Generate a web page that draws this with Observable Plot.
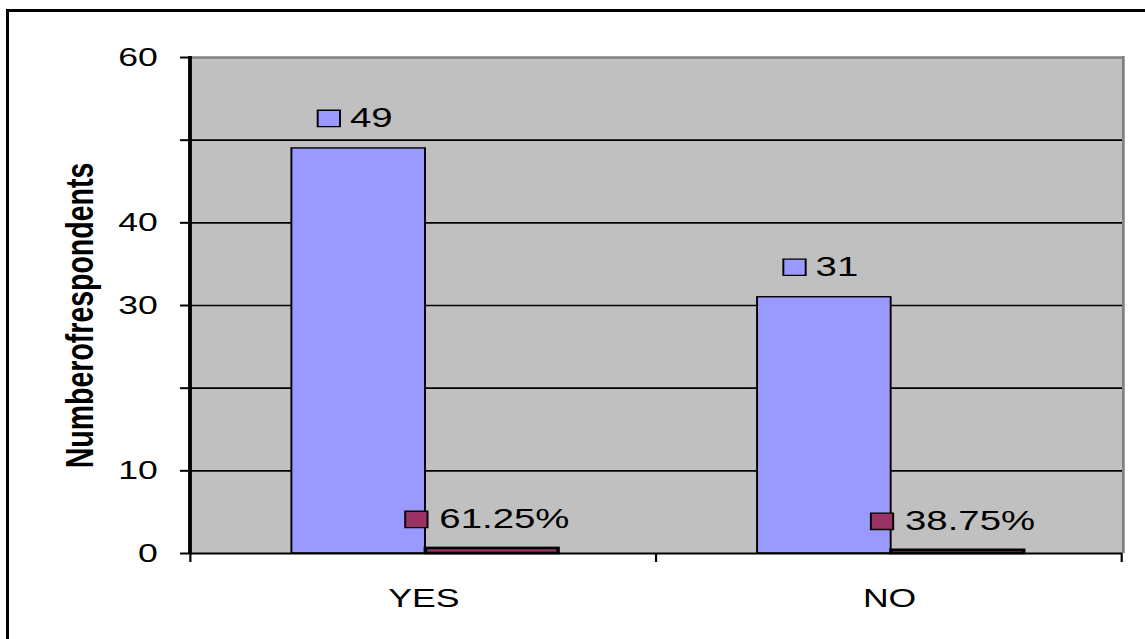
<!DOCTYPE html>
<html>
<head>
<meta charset="utf-8">
<script src="https://cdn.jsdelivr.net/npm/d3@7"></script>
<script src="https://cdn.jsdelivr.net/npm/@observablehq/plot@0.6"></script>
<style>
  html, body { margin: 0; padding: 0; background: #fff; }
  #wrap { position: relative; width: 1145px; height: 639px; overflow: hidden; }
  #border { position: absolute; left: 6px; top: 9px; width: 3000px; height: 3000px;
            border-left: 3px solid #000; border-top: 3px solid #000; pointer-events: none; }
  #chart { position: absolute; left: 0; top: 0; }
</style>
</head>
<body>
<div id="wrap"><div id="chart"></div><div id="border"></div></div>
<script>
// ---- data ----
const categories = ["YES", "NO"];
const respondents = [49, 31];
const shares = [0.6125, 0.3875];           // second series (shown as percentages)
const yTicks = [0, 10, 20, 30, 40, 50, 60];
const yTickLabels = [0, 10, 30, 40, 60];   // labels that are printed
const gridValues = [10, 20, 30, 40, 50];
const yLabel = "Numberofrespondents";

const rows = categories.map((c, i) => ({cat: c, n: respondents[i], share: shares[i]}));

// ---- layout (image is horizontally stretched: draw narrower, stretch to 1145) ----
const W = 836, H = 639, S = 1145 / W;
const font = "'Liberation Sans', Arial, sans-serif";

function decor(index, scales, values, dimensions) {
  const {width, height, marginLeft, marginRight, marginTop, marginBottom} = dimensions;
  const x = scales.x, bw = x.bandwidth();
  const g = d3.create("svg:g");
  const bottom = height - marginBottom;
  g.append("line").attr("x1", width - marginRight + 1).attr("x2", width - marginRight + 1)
    .attr("y1", marginTop - 1).attr("y2", bottom).attr("stroke", "#808080").attr("stroke-width", 2);
  g.append("line").attr("x1", marginLeft).attr("x2", marginLeft)
    .attr("y1", marginTop - 1).attr("y2", bottom + 1).attr("stroke", "#000").attr("stroke-width", 2.8);
  const bounds = categories.map(c => x(c)).concat([x(categories[categories.length - 1]) + bw]);
  g.selectAll("line.b").data(bounds).join("line").attr("class", "b")
    .attr("x1", d => d).attr("x2", d => d).attr("y1", bottom).attr("y2", bottom + 9)
    .attr("stroke", "#000").attr("stroke-width", 1.6);
  return g.node();
}

const chart = Plot.plot({
  width: W,
  height: H,
  marginLeft: 190 / S,
  marginRight: (1145 - 1122) / S,
  marginTop: 57,
  marginBottom: 86,
  style: {fontFamily: font, fontSize: "26px", color: "#000", background: "transparent", strokeWidth: 2},
  x: {domain: categories, padding: 0, tickSize: 0, tickPadding: 35, label: null},
  y: {domain: [0, 60], ticks: yTicks, tickSize: 7.3, tickPadding: 16.7, label: null,
      tickFormat: d => yTickLabels.includes(d) ? String(d) : ""},
  marks: [
    Plot.frame({fill: "#C0C0C0", stroke: null}),
    Plot.ruleY(gridValues, {stroke: "#000", strokeWidth: 1.6}),
    Plot.ruleY([60], {stroke: "#808080", strokeWidth: 2.5}),
    Plot.barY(rows, {x: "cat", y: "n", fill: "#9999FF", stroke: "#000", strokeWidth: 1.4,
      insetLeft: 73.75, insetRight: 168.7}),
    Plot.barY(rows, {x: "cat", y: "share", fill: "#993366", stroke: "#000", strokeWidth: 2.6,
      insetLeft: 171.6, insetRight: 71.55}),
    Plot.ruleY([0], {stroke: "#000", strokeWidth: 2.2}),
    decor,
    // data labels with legend keys
    Plot.dot(rows, {x: "cat", y: "n", symbol: "square", r: 9.2, fill: "#9999FF", stroke: "#000",
      strokeWidth: 1.4, dx: -69.4, dy: -30}),
    Plot.text(rows, {x: "cat", y: "n", text: d => String(d.n), textAnchor: "start", fontSize: 28,
      fill: "#000", dx: -54, dy: -30}),
    Plot.dot(rows, {x: "cat", y: "share", symbol: "square", r: 9.2, fill: "#993366", stroke: "#000",
      strokeWidth: 1.4, dx: -5.5, dy: -29}),
    Plot.text(rows, {x: "cat", y: "share", text: d => (d.share * 100).toFixed(2) + "%",
      textAnchor: "start", fontSize: 28, fill: "#000", dx: 11.3, dy: -29}),
    // y-axis title
    Plot.text([yLabel], {text: d => d, frameAnchor: "left", textAnchor: "middle", lineAnchor: "middle",
      rotate: -90, dx: -80.3, dy: 10, fontSize: 28.5, fontWeight: "bold", fill: "#000"})
  ]
});

chart.setAttribute("preserveAspectRatio", "none");
chart.setAttribute("width", 1145);
chart.setAttribute("height", H);
chart.style.width = "1145px";
chart.style.height = H + "px";
chart.style.maxWidth = "none";
document.getElementById("chart").appendChild(chart);
</script>
</body>
</html>
